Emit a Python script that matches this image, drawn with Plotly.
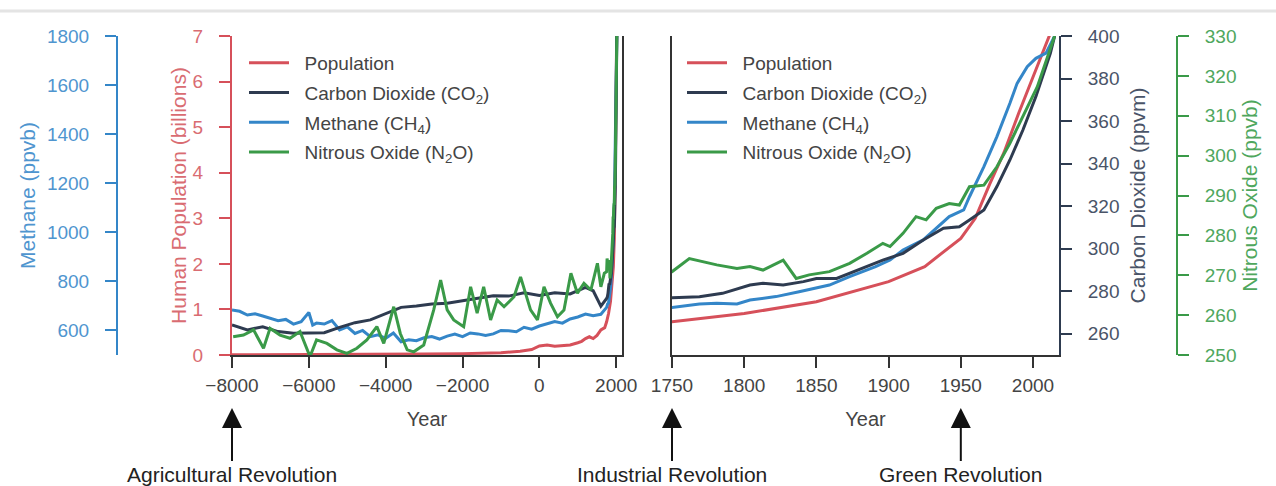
import plotly.graph_objects as go

W, H = 1276, 486

# ---------------- data ----------------
pop_years = [-8000, -6000, -4000, -3000, -2000, -1000, -500, -200, 0, 200, 400, 600, 800,
             1000, 1100, 1200, 1300, 1400, 1500, 1600, 1700, 1750, 1800, 1850, 1900, 1925,
             1950, 1960, 1970, 1980, 1990, 2000, 2010, 2015]
pop_vals = [0.005, 0.008, 0.012, 0.02, 0.03, 0.05, 0.08, 0.12, 0.2, 0.22, 0.19, 0.2, 0.22,
            0.27, 0.3, 0.36, 0.4, 0.36, 0.43, 0.55, 0.6, 0.73, 0.91, 1.17, 1.61, 1.94,
            2.56, 3.0, 3.75, 4.45, 5.3, 6.1, 6.9, 7.3]

co2_years = [-8000, -7600, -7200, -6800, -6400, -6000, -5600, -5200, -4800, -4400, -4000,
             -3600, -3200, -2800, -2400, -2000, -1600, -1200, -800, -400, 0, 400, 800, 1200,
             1400, 1600, 1750, 1769, 1785, 1804, 1813, 1827, 1841, 1850, 1864, 1873, 1896,
             1910, 1924, 1938, 1949, 1956, 1966, 1975, 1984, 1993, 2002, 2012, 2015]
co2_vals = [264.1, 261.8, 263.3, 261.0, 260.2, 260.2, 260.5, 263.0, 265.2, 266.5, 269.6,
            272.4, 273.0, 274.0, 274.3, 275.5, 277.0, 277.9, 277.7, 279.3, 278.0, 279.3, 278.7,
            281.8, 280.2, 273.0, 276.6, 277.4, 279.0, 282.9, 283.7, 282.9, 284.5, 286.0,
            286.0, 288.4, 294.6, 297.8, 304.1, 309.6, 310.3, 313.5, 318.2, 329.2, 341.7,
            355.8, 371.5, 391.9, 400.0]

ch4_years = [-8000, -7800, -7600, -7400, -7200, -7000, -6800, -6600, -6400, -6200, -6000,
             -5900, -5800, -5600, -5400, -5200, -5000, -4800, -4600, -4400, -4200, -4000,
             -3800, -3600, -3400, -3200, -3000, -2800, -2600, -2400, -2200, -2000, -1800,
             -1600, -1400, -1200, -1000, -800, -600, -400, -200, 0, 200, 400, 600, 800, 1000,
             1200, 1400, 1600, 1750, 1769, 1781, 1795, 1804, 1822, 1838, 1850, 1859, 1873,
             1891, 1901, 1910, 1924, 1942, 1952, 1956, 1966, 1975, 1984, 1989, 1996, 2002,
             2009, 2015]
ch4_vals = [683, 678, 663, 668, 659, 650, 640, 645, 626, 636, 673,
            622, 630, 626, 640, 602, 615, 588, 600, 575, 582, 568,
            590, 554, 562, 558, 570, 575, 565, 577, 585, 575, 590,
            586, 580, 586, 600, 599, 595, 613, 605, 618, 628, 636, 630, 647, 655,
            667, 660, 666, 694, 708, 711, 708, 724, 738, 758, 772, 785, 819,
            860, 887, 928, 969, 1064, 1091, 1145, 1268, 1390, 1526, 1607, 1675, 1709,
            1730, 1800]

n2o_years = [-7970, -7700, -7440, -7180, -7010, -6750, -6490, -6230, -5970, -5800, -5530,
             -5270, -5010, -4750, -4490, -4230, -4050, -3790, -3620, -3440, -3270, -3010,
             -2750, -2570, -2400, -2230, -1970, -1790, -1620, -1450, -1270, -1100, -920,
             -660, -490, -230, -50, 120, 290, 470, 640, 820, 990, 1160, 1340, 1510, 1600,
             1690, 1750, 1762, 1781, 1795, 1804, 1813, 1827, 1836, 1845, 1859, 1873, 1885,
             1896, 1901, 1910, 1919, 1926, 1933, 1942, 1949, 1956, 1966, 1975, 1984, 1993,
             2003, 2015]
n2o_vals = [254.6, 255.0, 256.3, 251.7, 256.7, 255.0, 254.2, 255.9, 249.6, 253.8, 252.9,
            251.3, 250.4, 251.7, 253.8, 257.1, 252.9, 262.1, 255.4, 251.3, 250.8, 252.5,
            261.3, 268.8, 261.3, 258.8, 257.1, 267.1, 260.5, 267.1, 258.8, 263.8, 262.1,
            264.6, 269.6, 261.3, 258.8, 267.1, 263.0, 259.6, 261.3, 270.5, 265.5, 268.0,
            266.3, 273.0, 267.1, 270.5, 270.9, 274.2, 272.6, 271.7, 272.2, 271.3, 273.8,
            269.2, 270.1, 270.9, 273.0, 275.5, 278.0, 277.2, 280.5, 284.7, 283.9, 286.8,
            288.0, 287.6, 292.2, 292.6, 297.2, 303.1, 309.8, 317.3, 330.0]

series_names = ["Population", "Carbon Dioxide (CO<sub>2</sub>)", "Methane (CH<sub>4</sub>)",
                "Nitrous Oxide (N<sub>2</sub>O)"]

left_xticks = [-8000, -6000, -4000, -2000, 0, 2000]
right_xticks = [1750, 1800, 1850, 1900, 1950, 2000]
pop_ticks = [0, 1, 2, 3, 4, 5, 6, 7]
ch4_ticks = [600, 800, 1000, 1200, 1400, 1600, 1800]
co2_ticks = [260, 280, 300, 320, 340, 360, 380, 400]
n2o_ticks = [250, 260, 270, 280, 290, 300, 310, 320, 330]

events = [("Agricultural Revolution", "left", -8000),
          ("Industrial Revolution", "right", 1750),
          ("Green Revolution", "right", 1950)]

# ---------------- styling ----------------
FONT = "Liberation Sans, Arial, sans-serif"
C_POP = "#d6505a"
C_CO2 = "#2e3b50"
C_CH4 = "#3486c8"
C_N2O = "#3a9a48"
C_POP_T = "#d96c72"
C_CH4_T = "#4f95cf"
C_CO2_T = "#4a5468"
C_N2O_T = "#4fa75d"
DARK = "#333333"
LW = 3
PAD = "\u00a0\u00a0"

LEFT_RANGE = [-8000, 2150]
RIGHT_RANGE = [1750, 2018]

fig = go.Figure()

data = [
    (pop_years, pop_vals, C_POP, ("y", "y5")),
    (co2_years, co2_vals, C_CO2, ("y3", "y7")),
    (ch4_years, ch4_vals, C_CH4, ("y2", "y6")),
    (n2o_years, n2o_vals, C_N2O, ("y4", "y8")),
]
for i, (xs, ys, col, (ya_l, ya_r)) in enumerate(data):
    fig.add_trace(go.Scatter(x=xs, y=ys, mode="lines", name=PAD + series_names[i],
                             line=dict(color=col, width=LW), xaxis="x", yaxis=ya_l,
                             legend="legend", legendgroup=f"l{i}", legendrank=i + 1))
    fig.add_trace(go.Scatter(x=xs, y=ys, mode="lines", name=PAD + series_names[i],
                             line=dict(color=col, width=LW), xaxis="x2", yaxis=ya_r,
                             legend="legend2", legendgroup=f"r{i}", legendrank=i + 1))

ydom = [1 - 355 / H, 1 - 36 / H]
xd1 = [232 / W, 622 / W]
xd2 = [672 / W, 1059 / W]


def tf(color, size=19):
    return dict(family=FONT, size=size, color=color)


common_y = dict(showgrid=False, zeroline=False, domain=ydom)
tick_style = dict(ticks="outside", ticklen=11, tickwidth=2, ticklabelstandoff=12)

xcommon = dict(showgrid=False, zeroline=False, showline=True, linecolor=DARK, linewidth=2,
               ticks="outside", ticklen=11, tickwidth=2, tickcolor=DARK,
               tickfont=tf("#444444"), ticklabelstandoff=1)

fig.update_layout(
    width=W, height=H, template="none",
    margin=dict(l=0, r=0, t=0, b=0),
    paper_bgcolor="white", plot_bgcolor="white",
    font=dict(family=FONT, color="#333333"),
    xaxis=dict(domain=xd1, range=LEFT_RANGE, tickvals=left_xticks, anchor="y",
               title=dict(text="Year", font=tf("#444444", 20), standoff=17), **xcommon),
    xaxis2=dict(domain=xd2, range=RIGHT_RANGE, tickvals=right_xticks, anchor="y5",
                title=dict(text="Year", font=tf("#444444", 20), standoff=17), **xcommon),
    # left panel
    yaxis=dict(range=[0, 7], tickvals=pop_ticks, anchor="x", side="left",
               showline=True, linecolor=C_POP, linewidth=2, tickcolor=C_POP,
               tickfont=tf(C_POP_T),
               title=dict(text="Human Population (billions)", font=tf(C_POP_T, 21), standoff=0),
               **tick_style, **common_y),
    yaxis2=dict(range=[500, 1800], tickvals=ch4_ticks, overlaying="y", anchor="free",
                position=117 / W, side="left", showline=True, linecolor=C_CH4, linewidth=2,
                tickcolor=C_CH4, tickfont=tf(C_CH4_T),
                title=dict(text="Methane (ppvb)", font=tf(C_CH4_T, 21), standoff=5),
                **tick_style, showgrid=False, zeroline=False),
    yaxis3=dict(range=[250, 400], overlaying="y", anchor="x", side="right", showline=True,
                linecolor=DARK, linewidth=2, ticks="", showticklabels=False,
                showgrid=False, zeroline=False),
    yaxis4=dict(range=[250, 330], overlaying="y", anchor="x", visible=False,
                showgrid=False, zeroline=False),
    # right panel
    yaxis5=dict(range=[0, 7], anchor="x2", side="left", showline=True, linecolor=DARK,
                linewidth=2, ticks="", showticklabels=False, **common_y),
    yaxis6=dict(range=[500, 1800], overlaying="y5", anchor="x2", visible=False,
                showgrid=False, zeroline=False),
    yaxis7=dict(range=[250, 400], tickvals=co2_ticks, overlaying="y5", anchor="x2",
                side="right", showline=True, linecolor=C_CO2, linewidth=2, tickcolor=C_CO2,
                tickfont=tf(C_CO2_T),
                title=dict(text="Carbon Dioxide (ppvm)", font=tf(C_CO2_T, 21), standoff=12),
                **tick_style, showgrid=False, zeroline=False),
    yaxis8=dict(range=[250, 330], tickvals=n2o_ticks, overlaying="y5", anchor="free",
                position=1177 / W, side="right", showline=True, linecolor=C_N2O, linewidth=2,
                tickcolor=C_N2O, tickfont=tf(C_N2O_T),
                title=dict(text="Nitrous Oxide (ppvb)", font=tf(C_N2O_T, 21), standoff=6),
                **tick_style, showgrid=False, zeroline=False),
    legend=dict(x=244 / W, y=1 - 44 / H, xanchor="left", yanchor="top",
                font=tf("#444444"), bgcolor="rgba(0,0,0,0)", itemwidth=40,
                traceorder="grouped", tracegroupgap=2),
    legend2=dict(x=682 / W, y=1 - 44 / H, xanchor="left", yanchor="top",
                 font=tf("#444444"), bgcolor="rgba(0,0,0,0)", itemwidth=40,
                 traceorder="grouped", tracegroupgap=2),
    shapes=[dict(type="line", xref="paper", yref="paper", x0=0, x1=1,
                 y0=1 - 11 / H, y1=1 - 11 / H, line=dict(color="#e4e4e4", width=3))],
)


def year_to_paper(panel, year):
    dom, rng = (xd1, LEFT_RANGE) if panel == "left" else (xd2, RIGHT_RANGE)
    return dom[0] + (year - rng[0]) / (rng[1] - rng[0]) * (dom[1] - dom[0])


for label, panel, year in events:
    fig.add_annotation(x=year_to_paper(panel, year), xref="paper", y=1 - 408 / H,
                       yref="paper", ax=0, ay=66, text=label, showarrow=True,
                       arrowhead=2, arrowsize=2, arrowwidth=2, arrowcolor="#111111",
                       font=tf("#222222", 21))

fig.write_html("out.html", config={"displayModeBar": False},
               post_script="document.body.style.margin='0px';"
                           "document.body.style.overflow='hidden';")
